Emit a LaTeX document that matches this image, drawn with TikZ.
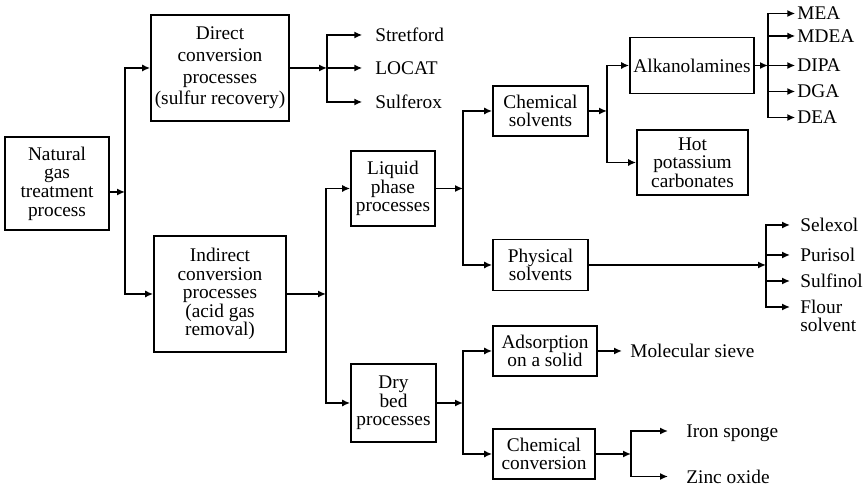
\documentclass[tikz,border=0pt]{standalone}
\usepackage{fontspec}
\setmainfont{Liberation Serif}
\usetikzlibrary{arrows.meta}

\begin{document}
\begin{tikzpicture}[
    font=\fontsize{11}{10.6}\selectfont,
    box/.style={draw, line width=1pt, align=center, inner sep=1pt},
    leaf/.style={anchor=west, inner sep=1pt, text depth=0pt},
    link/.style={line width=1pt, -{Latex[length=4.5pt,width=4pt]}}
]
\useasboundingbox (0,0) rectangle (17.26,9.74);

% Main process and its two routes
\node[box, minimum width=2.08cm, minimum height=1.86cm] (gas) at (1.14,6.07) {Natural\\gas\\treatment\\process};
\node[box, minimum width=2.76cm, minimum height=2.12cm, font=\fontsize{11}{12.3}\selectfont] (direct) at (4.40,8.38) {Direct\\conversion\\processes\\(sulfur recovery)};
\node[box, minimum width=2.64cm, minimum height=2.32cm] (indirect) at (4.40,3.86) {Indirect\\conversion\\processes\\(acid gas\\removal)};
\coordinate (f1) at (2.50,5.90);
\draw[link] (gas.east |- f1) -- (f1);
\draw[link] (f1) |- (direct);
\draw[link] (f1) |- (indirect);

% Direct conversion (sulfur recovery)
\node[leaf] (stretford) at (7.465,9.04) {Stretford};
\node[leaf] (locat) at (7.465,8.38) {LOCAT};
\node[leaf] (sulferox) at (7.465,7.70) {Sulferox};
\coordinate (f2) at (6.54,8.38);
\draw[link] (direct) -- (f2);
\foreach \n in {stretford,locat,sulferox}
    \draw[link, shorten >=0.22cm] (f2) |- (\n);

% Indirect conversion: liquid phase and dry bed
\node[box, minimum width=1.68cm, minimum height=1.50cm] (liquid) at (7.86,5.97) {Liquid\\phase\\processes};
\node[box, minimum width=1.70cm, minimum height=1.56cm] (dry) at (7.87,1.68) {Dry\\bed\\processes};
\coordinate (f3) at (6.52,3.86);
\draw[link] (indirect) -- (f3);
\draw[link] (f3) |- (liquid);
\draw[link] (f3) |- (dry);

% Solvents
\node[box, minimum width=1.90cm, minimum height=1.0cm] (chemsolv) at (10.81,7.52) {Chemical\\solvents};
\node[box, minimum width=1.90cm, minimum height=1.02cm] (physsolv) at (10.81,4.44) {Physical\\solvents};
\coordinate (f4) at (9.26,5.97);
\draw[link] (liquid) -- (f4);
\draw[link] (f4) |- (chemsolv);
\draw[link] (f4) |- (physsolv);

% Chemical solvents
\node[box, minimum width=2.48cm, minimum height=1.12cm] (alkanol) at (13.84,8.43) {Alkanolamines};
\node[box, minimum width=2.22cm, minimum height=1.30cm] (hotpot) at (13.85,6.49) {Hot\\potassium\\carbonates};
\coordinate (f5) at (12.14,7.52);
\draw[link] (chemsolv) -- (f5);
\draw[link] (f5) |- (alkanol);
\draw[link] (f5) |- (hotpot);

\node[leaf] (mea) at (15.905,9.47) {MEA};
\node[leaf] (mdea) at (15.905,9.02) {MDEA};
\node[leaf] (dipa) at (15.905,8.43) {DIPA};
\node[leaf] (dga) at (15.905,7.91) {DGA};
\node[leaf] (dea) at (15.905,7.39) {DEA};
\coordinate (f6) at (15.36,8.43);
\draw[link] (alkanol) -- (f6);
\foreach \n in {mea,mdea,dipa,dga,dea}
    \draw[link] (f6) |- (\n);

% Physical solvents
\node[leaf] (selexol) at (15.965,5.24) {Selexol};
\node[leaf] (purisol) at (15.965,4.64) {Purisol};
\node[leaf] (sulfinol) at (15.965,4.12) {Sulfinol};
\node[anchor=west, inner sep=1pt, align=left] (flour) at (15.965,3.42) {Flour\\solvent};
\coordinate (f7) at (15.32,4.44);
\draw[link] (physsolv) -- (f7);
\foreach \n in {selexol,purisol,sulfinol}
    \draw[link, shorten >=0.165cm] (f7) |- (\n);
\draw[link, shorten >=0.165cm] (f7) |- ([yshift=0.18cm]flour.west);

% Dry bed
\node[box, minimum width=2.08cm, minimum height=1.0cm] (adsorb) at (10.90,2.72) {Adsorption\\on a solid};
\node[box, minimum width=2.04cm, minimum height=1.0cm] (chemconv) at (10.88,0.66) {Chemical\\conversion};
\coordinate (f8) at (9.26,1.68);
\draw[link] (dry) -- (f8);
\draw[link] (f8) |- (adsorb);
\draw[link] (f8) |- (chemconv);

\node[leaf] (sieve) at (12.565,2.72) {Molecular sieve};
\draw[link, shorten >=0.125cm] (adsorb) -- (sieve);

\node[leaf] (iron) at (13.685,1.12) {Iron sponge};
\node[leaf] (zinc) at (13.685,0.21) {Zinc oxide};
\coordinate (f9) at (12.62,0.66);
\draw[link] (chemconv) -- (f9);
\draw[link, shorten >=0.325cm] (f9) |- (iron);
\draw[link, shorten >=0.325cm] (f9) |- (zinc);
\end{tikzpicture}
\end{document}
